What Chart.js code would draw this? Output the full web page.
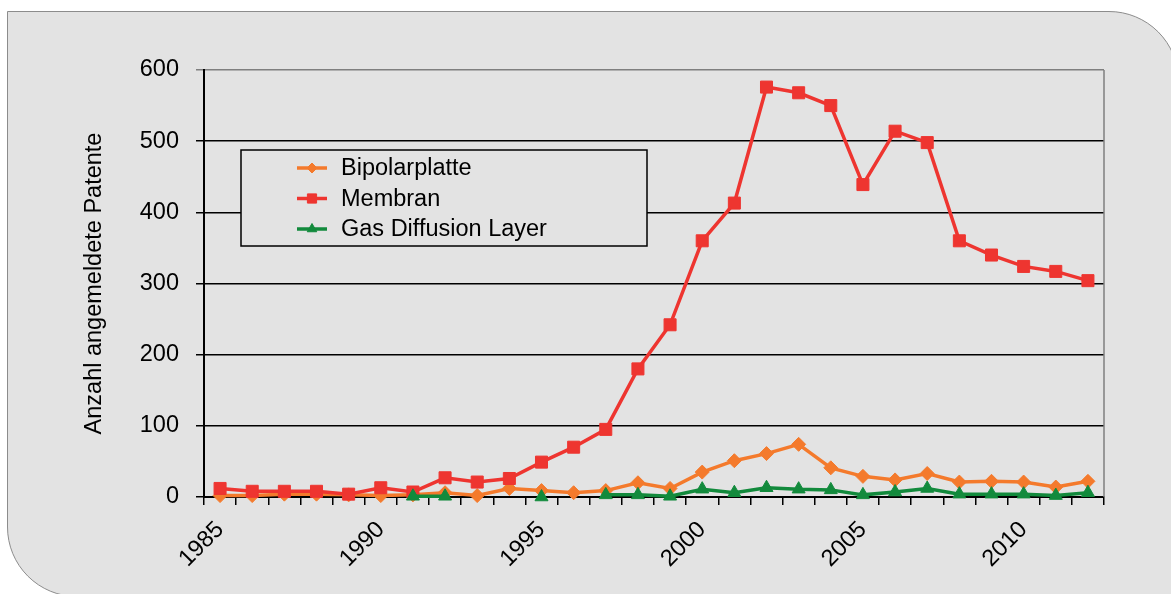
<!DOCTYPE html>
<html>
<head>
<meta charset="utf-8">
<script src="https://cdn.jsdelivr.net/npm/chart.js@4/dist/chart.umd.min.js"></script>
<style>
  html, body { margin: 0; padding: 0; background: #fff; overflow: hidden; }
  #wrap { position: relative; width: 1171px; height: 594px; overflow: hidden; }
  #panel {
    position: absolute; left: 7px; top: 11px; width: 1170px; height: 584px;
    background: #e3e3e3; border: 1px solid #8c8c8c;
    border-radius: 0 70px 0 70px;
  }
  #c { position: absolute; left: 0; top: 0; }
</style>
</head>
<body>
<div id="wrap">
  <div id="panel"></div>
  <canvas id="c" width="1171" height="594"></canvas>
</div>
<script>
// Patent filings per year
const YEARS = [1985, 1986, 1987, 1988, 1989, 1990, 1991, 1992, 1993, 1994,
               1995, 1996, 1997, 1998, 1999, 2000, 2001, 2002, 2003, 2004,
               2005, 2006, 2007, 2008, 2009, 2010, 2011, 2012];
const BIPOLAR = [2, 2, 4, 4, 3, 2, 3, 6, 2, 12,
                 9, 6, 9, 20, 12, 35, 51, 61, 74, 41,
                 29, 24, 33, 21, 22, 21, 14, 22];
const MEMBRAN = [12, 8, 8, 8, 4, 13, 7, 27, 21, 26,
                 49, 70, 95, 180, 242, 360, 413, 576, 568, 550,
                 439, 514, 498, 360, 340, 324, 317, 304];
const GDL     = [null, null, null, null, null, null, 1, 1, null, null,
                 0, null, 3, 3, 1, 11, 6, 13, 11, 10,
                 3, 7, 12, 4, 4, 4, 2, 6];
const Y_TICKS = [0, 100, 200, 300, 400, 500, 600];

const ORANGE = "#f47a2c";
const RED    = "#ee3530";
const GREEN  = "#128a3c";
const FONT   = "'Liberation Sans', Arial, sans-serif";
const FSIZE  = 23.5;

Chart.defaults.font.family = FONT;
Chart.defaults.font.size = FSIZE;
Chart.defaults.color = "#000";

const SERIES = [
  { label: "Bipolarplatte",       data: BIPOLAR, color: ORANGE, style: "rectRot",  radius: 7,   legR: 5,   order: 2 },
  { label: "Membran",             data: MEMBRAN, color: RED,    style: "rect",     radius: 8.5, legR: 6.5, order: 1 },
  { label: "Gas Diffusion Layer", data: GDL,     color: GREEN,  style: "triangle", radius: 7.5, legR: 5.5, order: 0 }
];

// Boxed legend sitting inside the plot, plus grey frame on the right of the plot.
const boxLegend = {
  id: "boxLegend",
  afterDatasetsDraw(chart) {
    const { ctx, chartArea: a } = chart;
    ctx.save();
    ctx.strokeStyle = "#7f7f7f";
    ctx.lineWidth = 1.5;
    ctx.beginPath();
    ctx.moveTo(a.right, a.top);
    ctx.lineTo(a.right, a.bottom);
    ctx.stroke();

    const x0 = a.left + 37, y0 = a.top + 80, w = 406, h = 96;
    ctx.fillStyle = "#e3e3e3";
    ctx.fillRect(x0, y0, w, h);
    ctx.strokeStyle = "#000";
    ctx.lineWidth = 1.5;
    ctx.strokeRect(x0, y0, w, h);

    ctx.font = `${FSIZE}px ${FONT}`;
    ctx.textBaseline = "middle";
    SERIES.forEach((s, i) => {
      const y = y0 + 18 + i * 30.5;
      ctx.strokeStyle = s.color;
      ctx.lineWidth = 3.5;
      ctx.beginPath();
      ctx.moveTo(x0 + 56, y);
      ctx.lineTo(x0 + 86, y);
      ctx.stroke();
      ctx.fillStyle = s.color;
      ctx.lineWidth = 1;
      Chart.helpers.drawPoint(ctx, { pointStyle: s.style, radius: s.legR, rotation: 0, borderWidth: 1 }, x0 + 71, y);
      ctx.fillStyle = "#000";
      ctx.fillText(s.label, x0 + 100, y + 1);
    });
    ctx.restore();
  }
};

new Chart(document.getElementById("c"), {
  type: "line",
  data: {
    labels: YEARS,
    datasets: SERIES.map(s => ({
      label: s.label,
      data: s.data,
      order: s.order,
      borderColor: s.color,
      backgroundColor: s.color,
      borderWidth: 3.5,
      pointStyle: s.style,
      pointRadius: s.radius,
      pointBorderWidth: 1,
      pointBackgroundColor: s.color,
      pointBorderColor: s.color,
      spanGaps: false,
      tension: 0,
      clip: false
    }))
  },
  options: {
    responsive: false,
    animation: false,
    devicePixelRatio: 1,
    layout: { padding: { left: 76, top: 70, right: 67, bottom: 0 } },
    plugins: { legend: { display: false }, tooltip: { enabled: false } },
    scales: {
      x: {
        offset: true,
        afterFit: s => { s.height = 97; },
        grid: { offset: true, drawOnChartArea: false, drawTicks: true, tickLength: 8, color: "#000", lineWidth: 1.5 },
        border: { color: "#000", width: 2 },
        ticks: {
          autoSkip: false, minRotation: 45, maxRotation: 45, padding: 11,
          font: { size: FSIZE }, color: "#000",
          callback: (v, i) => (YEARS[i] % 5 === 0 ? String(YEARS[i]) : "")
        }
      },
      y: {
        min: 0, max: 600,
        afterFit: s => { s.width = 128; },
        afterBuildTicks: s => { s.ticks = Y_TICKS.map(v => ({ value: v })); },
        grid: {
          color: c => (c.tick && c.tick.value === 600 ? "#7f7f7f" : "#000"),
          lineWidth: 1.5, tickLength: 8
        },
        border: { color: "#000", width: 2 },
        ticks: { padding: 17, font: { size: FSIZE }, color: "#000" },
        title: {
          display: true, text: "Anzahl angemeldete Patente",
          font: { size: FSIZE }, color: "#000", padding: 4
        }
      }
    }
  },
  plugins: [boxLegend]
});
</script>
</body>
</html>
